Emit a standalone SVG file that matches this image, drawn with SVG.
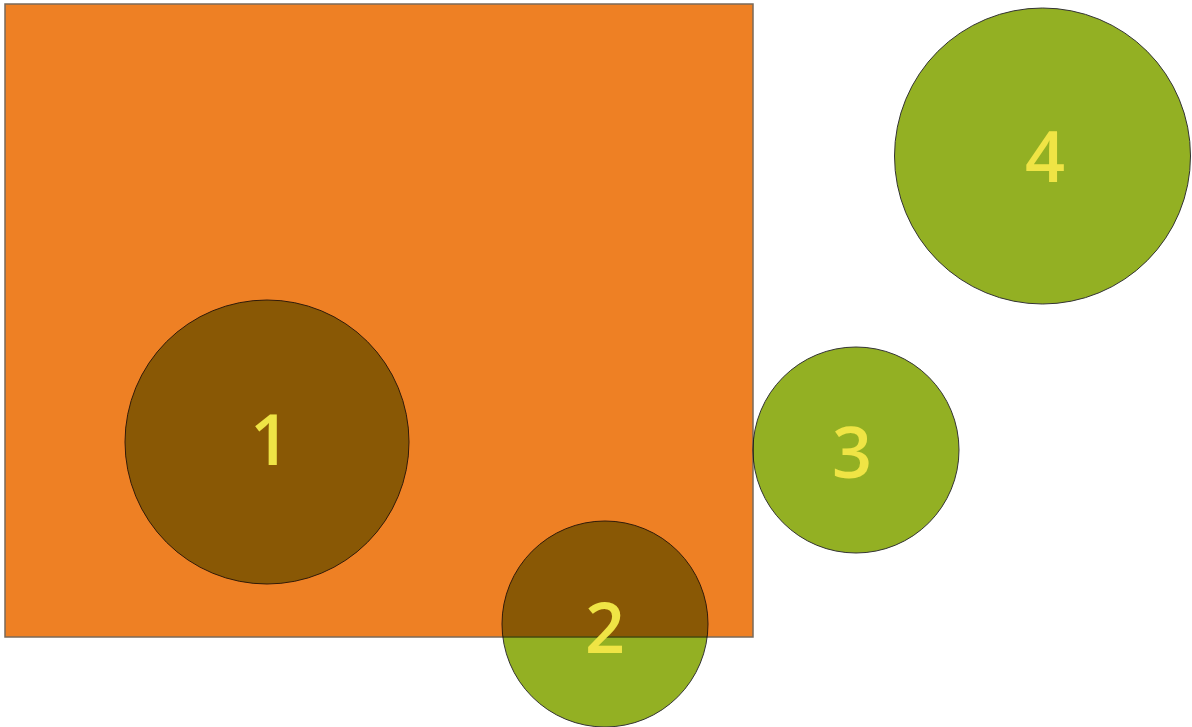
<svg xmlns="http://www.w3.org/2000/svg" width="1192" height="727" viewBox="0 0 1192 727">
<style>
.area{fill:#EE8024;stroke:#7a6a5a;stroke-width:1.5}
.c{fill:#93B023;stroke:#333;stroke-width:1;mix-blend-mode:multiply}
.t{fill:#EFE445;font-family:"Open Sans","Lato","DejaVu Sans",sans-serif;font-weight:600;font-size:70px;text-anchor:middle}
</style>
<rect width="1192" height="727" fill="#fff"/>
<g id="area"><rect class="area" x="5" y="4" width="748" height="633"/></g>
<g id="connectors"></g>
<g id="node1"><circle class="c" cx="267" cy="442" r="142"/></g>
<g id="node2"><circle class="c" cx="605" cy="624" r="103"/></g>
<g id="node3"><circle class="c" cx="856" cy="450" r="103"/></g>
<g id="node4"><circle class="c" cx="1042.5" cy="156" r="148"/></g>
<g id="labels">
<text class="t" x="270" y="465">1</text>
<text class="t" x="605" y="653">2</text>
<text class="t" x="852" y="478">3</text>
<text class="t" x="1045" y="182">4</text>
</g>
</svg>
